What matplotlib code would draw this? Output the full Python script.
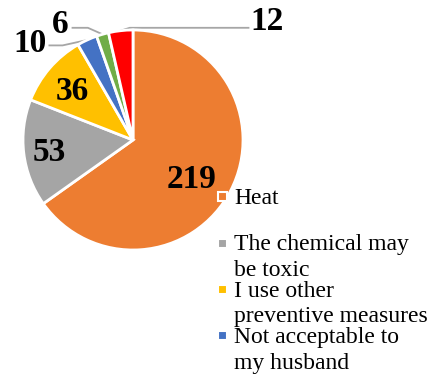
import matplotlib.pyplot as plt
from matplotlib.patches import Rectangle
import numpy as np

reasons = [
    "Heat",
    "The chemical may\nbe toxic",
    "I use other\npreventive measures",
    "Not acceptable to\nmy husband",
]
counts = [219, 53, 36, 10, 6, 12]
colors = ["#ED7D31", "#A5A5A5", "#FFC000", "#4472C4", "#70AD47", "#FF0000"]

W, H = 432, 378
serif = "Liberation Serif"


def fx(px):
    return px / W


def fy(py):
    return 1 - py / H


fig = plt.figure(figsize=(W / 100, H / 100), dpi=100)
cx, cy, r = 133, 140, 110
ax = fig.add_axes([fx(cx - r), fy(cy + r), 2 * r / W, 2 * r / H])

wedges, _ = ax.pie(counts, colors=colors, startangle=90, counterclock=False,
                   wedgeprops=dict(edgecolor="white", linewidth=2))
ax.set_xlim(-1, 1)
ax.set_ylim(-1, 1)

# labels inside the big slices
inner_pos = {0: (0.53, -0.36), 1: (-0.76, -0.11), 2: (-0.55, 0.44)}
for i, (x, y) in inner_pos.items():
    ax.text(x, y, str(counts[i]), ha="center", va="center", fontsize=24,
            fontweight="bold", family=serif)

# small slices get labels outside with leader lines
outer = {3: ((-0.94, 0.88), (-0.64, 0.86), (-0.76, 0.86)),
         4: ((-0.66, 1.05), (-0.41, 1.02), (-0.55, 1.02)),
         5: ((1.22, 1.08), (-0.03, 1.02), (1.05, 1.02))}
for i, (txt, elbow, end) in outer.items():
    w = wedges[i]
    mid = np.deg2rad((w.theta1 + w.theta2) / 2)
    ex, ey = np.cos(mid), np.sin(mid)
    ax.plot([ex, elbow[0], end[0]], [ey, elbow[1], end[1]], color="#A6A6A6",
            lw=1.3, clip_on=False, zorder=0.5)
    ax.text(txt[0], txt[1], str(counts[i]), ha="center", va="center",
            fontsize=24, fontweight="bold", family=serif)

# legend down the right side (runs off the bottom after four entries)
y0, step = 197, 46.3
for i, (lab, c) in enumerate(zip(reasons, colors)):
    y = y0 + i * step
    fig.patches.append(Rectangle((fx(218), fy(y + 4.5)), 9 / W, 9 / H,
                                 transform=fig.transFigure, facecolor=c,
                                 edgecolor="white", lw=1.5))
    fig.text(fx(234), fy(y - 9), lab, ha="left", va="top", fontsize=17,
             family=serif, linespacing=1.3)

fig.savefig("out.png", dpi=100)
